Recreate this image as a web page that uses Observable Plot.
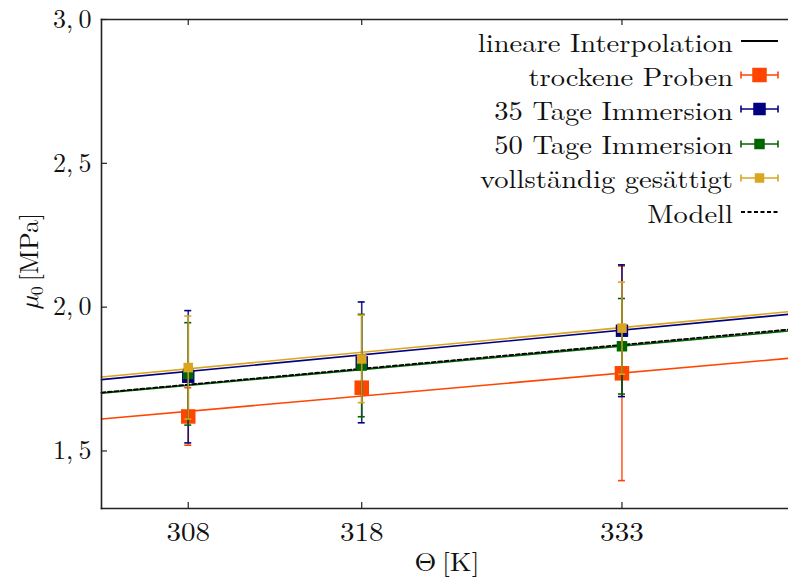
<!DOCTYPE html>
<html>
<head>
<meta charset="utf-8">
<script src="https://cdn.jsdelivr.net/npm/d3@7"></script>
<script src="https://cdn.jsdelivr.net/npm/@observablehq/plot@0.6"></script>
<style>
  html, body { margin: 0; padding: 0; background: #fff; }
  #wrap { position: relative; width: 788px; height: 579px; overflow: hidden; font-family: "Latin Modern Roman", "Latin Modern Math", "Liberation Serif", serif; }
  #legend { position: absolute; right: 8px; top: 24px; font-size: 26px; color: #111; }
  #legend .row { display: flex; align-items: center; justify-content: flex-end; height: 34.2px; }
  #legend .row span { display: inline-block; transform: scaleX(1.1); transform-origin: right center; }
  #legend .row svg { margin-left: 6px; }
</style>
</head>
<body>
<div id="wrap"></div>
<script>
// ---- data ----
const temps = [308, 318, 333];
const xTickLabels = ["308", "318", "333"];
const yTicks = [1.5, 2.0, 2.5, 3.0];
const yTickLabels = ["1,\u20095", "2,\u20090", "2,\u20095", "3,\u20090"];

const seriesNames = ["trockene Proben", "35 Tage Immersion", "50 Tage Immersion", "vollständig gesättigt"];
const seriesColors = ["#ff4500", "#000080", "#006400", "#daa520"];

const trockeneMean = [1.62, 1.72, 1.77];
const trockeneErr  = [0.10, 0.015, 0.373];
const tage35Mean   = [1.758, 1.808, 1.918];
const tage35Err    = [0.230, 0.210, 0.229];
const tage50Mean   = [1.768, 1.797, 1.864];
const tage50Err    = [0.178, 0.178, 0.166];
const gesMean      = [1.790, 1.820, 1.927];
const gesErr       = [0.179, 0.152, 0.160];

// linear interpolation lines: values at the frame edges
const fitX = [303, 342.6];
const trockeneFit = [1.611, 1.822];
const tage35Fit   = [1.748, 1.975];
const tage50Fit   = [1.701, 1.917];
const gesFit      = [1.757, 1.984];
const modellFit   = [1.703, 1.922];

// ---- build tables ----
const means = [trockeneMean, tage35Mean, tage50Mean, gesMean];
const errs = [trockeneErr, tage35Err, tage50Err, gesErr];
const fits = [trockeneFit, tage35Fit, tage50Fit, gesFit];
const markerR = [8.2, 7.0, 5.9, 5.4];      // marker sizes (px radius)
const legendSq = [14.5, 12.5, 10.5, 9.5];  // legend square sides (px)

const points = [];
seriesNames.forEach((s, i) => temps.forEach((t, j) => {
  points.push({series: s, si: i, x: t, y: means[i][j], lo: means[i][j] - errs[i][j], hi: means[i][j] + errs[i][j]});
}));
const lines = [];
seriesNames.forEach((s, i) => fitX.forEach((x, j) => lines.push({series: s, x, y: fits[i][j]})));
const modell = fitX.map((x, j) => ({x, y: modellFit[j]}));

const W = 788, H = 579;
const mL = 101, mT = 19, mB = 71, mR = 0;
const fw = W - mL - mR, fh = H - mT - mB;
const FONT = "'Latin Modern Roman', 'Latin Modern Math', 'Liberation Serif', serif";

const marks = [];
// interpolation lines
seriesNames.forEach((s, i) => {
  marks.push(Plot.line(lines.filter(d => d.series === s), {x: "x", y: "y", stroke: seriesColors[i], strokeWidth: 1.6}));
});
marks.push(Plot.line(modell, {x: "x", y: "y", stroke: "#000", strokeWidth: 1.8, strokeDasharray: "4,2.5"}));
// error bars + markers, series by series
seriesNames.forEach((s, i) => {
  const pts = points.filter(d => d.si === i);
  const c = seriesColors[i];
  marks.push(Plot.dot(pts, {x: "x", y: "y", symbol: "square", fill: c, r: markerR[i]}));
  marks.push(Plot.ruleX(pts, {x: "x", y1: "lo", y2: "hi", stroke: c, strokeWidth: 1.6, strokeOpacity: 0.85}));
  marks.push(Plot.ruleY(pts, {y: "lo", x1: "x", x2: "x", insetLeft: -3.5, insetRight: -3.5, stroke: c, strokeWidth: 1.6}));
  marks.push(Plot.ruleY(pts, {y: "hi", x1: "x", x2: "x", insetLeft: -3.5, insetRight: -3.5, stroke: c, strokeWidth: 1.6}));
});
// inward ticks
marks.push(Plot.ruleX(temps, {x: d => d, insetTop: fh - 6, stroke: "#222", strokeWidth: 1.2}));
marks.push(Plot.ruleX(temps, {x: d => d, insetBottom: fh - 6, stroke: "#222", strokeWidth: 1.2}));
marks.push(Plot.ruleY(yTicks, {y: d => d, insetRight: fw - 6, stroke: "#222", strokeWidth: 1.2}));
// frame (top, left, bottom)
marks.push(Plot.frame({anchor: "left", stroke: "#222", strokeWidth: 1.6}));
marks.push(Plot.frame({anchor: "top", stroke: "#222", strokeWidth: 1.6}));
marks.push(Plot.frame({anchor: "bottom", stroke: "#222", strokeWidth: 1.6}));
// axes labels
marks.push(Plot.axisX(temps, {tickSize: 0, tickPadding: 14, tickFormat: d => xTickLabels[temps.indexOf(d)], label: null, fontSize: 26}));
marks.push(Plot.axisY(yTicks, {tickSize: 0, tickPadding: 10, tickFormat: d => yTickLabels[yTicks.indexOf(d)], label: null, fontSize: 26}));

const chart = Plot.plot({
  width: W, height: H,
  marginLeft: mL, marginTop: mT, marginBottom: mB, marginRight: mR,
  style: {fontFamily: FONT, fontSize: "26px", color: "#111", background: "#fff", overflow: "visible"},
  x: {domain: [303, 342.6], axis: null},
  y: {domain: [1.3, 3.0], axis: null},
  marks
});

const svg = d3.select(chart);
// widen x tick labels slightly (reference glyphs are wider)
svg.selectAll("g[aria-label='x-axis tick label'] text").each(function() {
  const t = this.getAttribute("transform") || "";
  this.setAttribute("transform", t + " scale(1.12,1)");
});

// axis titles
const xl = svg.append("text").attr("transform", "translate(447,571) scale(1.08,1)").attr("text-anchor", "middle")
  .attr("font-size", 26).attr("fill", "#111");
xl.append("tspan").text("\u0398\u2009[K]");
const yl = svg.append("text").attr("transform", "translate(38,261) rotate(-90)").attr("text-anchor", "middle")
  .attr("font-size", 26).attr("fill", "#111");
yl.append("tspan").attr("font-style", "italic").text("\u03bc");
yl.append("tspan").attr("font-size", 18).attr("dy", 5).text("0");
yl.append("tspan").attr("dy", -5).text("\u2009[MPa]");

const wrap = document.getElementById("wrap");
wrap.appendChild(chart);

// legend
const legend = document.createElement("div");
legend.id = "legend";
const items = [
  {label: "lineare Interpolation", kind: "line", color: "#000"},
  ...seriesNames.map((s, i) => ({label: s, kind: "err", color: seriesColors[i], sq: legendSq[i]})),
  {label: "Modell", kind: "dash", color: "#000"}
];
items.forEach(it => {
  const row = document.createElement("div");
  row.className = "row";
  const span = document.createElement("span");
  span.textContent = it.label;
  row.appendChild(span);
  const s = d3.create("svg").attr("width", 41).attr("height", 20);
  if (it.kind === "line") {
    s.append("line").attr("x1", 2).attr("x2", 39).attr("y1", 10).attr("y2", 10).attr("stroke", "#000").attr("stroke-width", 1.8);
  } else if (it.kind === "dash") {
    s.append("line").attr("x1", 2).attr("x2", 39).attr("y1", 10).attr("y2", 10).attr("stroke", "#000").attr("stroke-width", 1.8).attr("stroke-dasharray", "4,2.5");
  } else {
    s.append("line").attr("x1", 2).attr("x2", 39).attr("y1", 10).attr("y2", 10).attr("stroke", it.color).attr("stroke-width", 1.6);
    s.append("line").attr("x1", 2).attr("x2", 2).attr("y1", 6.5).attr("y2", 13.5).attr("stroke", it.color).attr("stroke-width", 1.6);
    s.append("line").attr("x1", 39).attr("x2", 39).attr("y1", 6.5).attr("y2", 13.5).attr("stroke", it.color).attr("stroke-width", 1.6);
    s.append("rect").attr("x", 20.5 - it.sq / 2).attr("y", 10 - it.sq / 2).attr("width", it.sq).attr("height", it.sq).attr("fill", it.color);
  }
  row.appendChild(s.node());
  legend.appendChild(row);
});
wrap.appendChild(legend);
</script>
</body>
</html>
